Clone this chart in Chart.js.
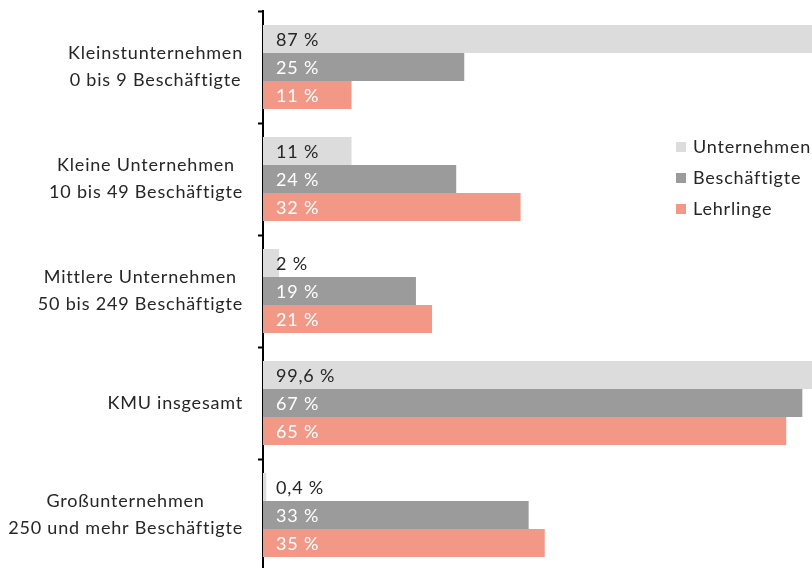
<!DOCTYPE html>
<html>
<head>
<meta charset="utf-8">
<script src="https://cdn.jsdelivr.net/npm/chart.js@4/dist/chart.umd.min.js"></script>
<style>
html, body { margin: 0; padding: 0; overflow: hidden; background: #fff; }
#wrap { width: 812px; height: 571px; position: relative; }
</style>
</head>
<body>
<div id="wrap"><canvas id="myChart"></canvas></div>
<script>
// categories (two-line labels) and series values in percent
var categories = [
    ["Kleinstunternehmen", "0 bis 9 Beschäftigte"],
    ["Kleine Unternehmen", "10 bis 49 Beschäftigte"],
    ["Mittlere Unternehmen", "50 bis 249 Beschäftigte"],
    ["KMU insgesamt"],
    ["Großunternehmen", "250 und mehr Beschäftigte"]
];
var seriesNames = ["Unternehmen", "Beschäftigte", "Lehrlinge"];
var unternehmen = [87, 11, 2, 99.6, 0.4];
var beschaeftigte = [25, 24, 19, 67, 33];
var lehrlinge = [11, 32, 21, 65, 35];

var colors = ["#dcdcdc", "#9b9b9b", "#f19887"];
var labelColors = ["#262626", "#ffffff", "#ffffff"];
var FONT = "18px Lato";
var SPACING = "0.8px";

function fmt(v) {
    return String(v).replace(".", ",") + " %";
}

// value labels inside the bars
var barLabels = {
    id: "barLabels",
    afterDatasetsDraw: function (chart) {
        var ctx = chart.ctx;
        ctx.save();
        ctx.font = FONT;
        ctx.letterSpacing = SPACING;
        ctx.textAlign = "left";
        ctx.textBaseline = "middle";
        chart.data.datasets.forEach(function (ds, di) {
            var meta = chart.getDatasetMeta(di);
            meta.data.forEach(function (bar, i) {
                ctx.fillStyle = labelColors[di];
                ctx.fillText(fmt(ds.data[i]), chart.chartArea.left + 13, bar.y + 1);
            });
        });
        ctx.restore();
    }
};

// category labels: each label centered on itself, right-aligned as a block
var catLabels = {
    id: "catLabels",
    afterDraw: function (chart) {
        var ctx = chart.ctx;
        var yScale = chart.scales.y;
        var rightEdge = 243;
        var lineH = 27;
        ctx.save();
        ctx.font = FONT;
        ctx.letterSpacing = SPACING;
        ctx.fillStyle = "#262626";
        ctx.textAlign = "center";
        ctx.textBaseline = "middle";
        categories.forEach(function (lines, i) {
            var widest = 0;
            lines.forEach(function (l) {
                widest = Math.max(widest, ctx.measureText(l).width);
            });
            var cx = rightEdge - widest / 2;
            var cy = yScale.getPixelForValue(i);
            var y0 = cy - (lines.length - 1) * lineH / 2;
            lines.forEach(function (l, k) {
                ctx.fillText(l, cx, y0 + k * lineH);
            });
        });
        ctx.restore();
    }
};

// legend placed inside the plot on the right
var sideLegend = {
    id: "sideLegend",
    afterDraw: function (chart) {
        var ctx = chart.ctx;
        ctx.save();
        ctx.font = FONT;
        ctx.letterSpacing = SPACING;
        ctx.textAlign = "left";
        ctx.textBaseline = "middle";
        chart.data.datasets.forEach(function (ds, di) {
            var y = 147 + di * 31;
            ctx.fillStyle = ds.backgroundColor;
            ctx.fillRect(676, y - 5, 10, 10);
            ctx.fillStyle = "#262626";
            ctx.fillText(ds.label, 693, y);
        });
        ctx.restore();
    }
};

var ctx = document.getElementById("myChart").getContext("2d");
var myChart = new Chart(ctx, {
    type: "bar",
    data: {
        labels: categories,
        datasets: [
            { label: seriesNames[0], data: unternehmen, backgroundColor: colors[0] },
            { label: seriesNames[1], data: beschaeftigte, backgroundColor: colors[1] },
            { label: seriesNames[2], data: lehrlinge, backgroundColor: colors[2] }
        ]
    },
    options: {
        indexAxis: "y",
        responsive: true,
        maintainAspectRatio: false,
        animation: false,
        datasets: {
            bar: { categoryPercentage: 0.75, barPercentage: 1, borderWidth: 0 }
        },
        layout: { padding: { top: 11, right: 0, bottom: 0, left: 0 } },
        scales: {
            x: { display: false, min: 0, max: 68.2 },
            y: {
                offset: true,
                ticks: { display: false },
                grid: {
                    offset: true,
                    drawOnChartArea: false,
                    drawTicks: true,
                    tickLength: 5,
                    tickColor: "#000",
                    tickWidth: 2
                },
                border: { display: true, color: "#000", width: 2 },
                afterFit: function (scale) { scale.width = 263; }
            }
        },
        plugins: {
            legend: { display: false },
            tooltip: { enabled: false }
        }
    },
    plugins: [barLabels, catLabels, sideLegend]
});
</script>
</body>
</html>
